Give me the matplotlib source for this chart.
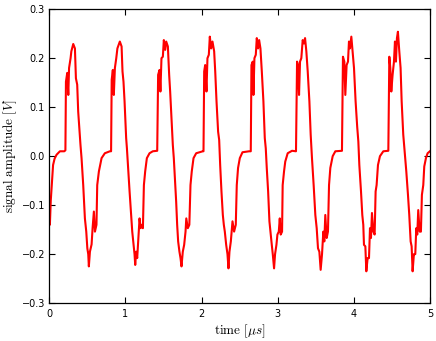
import matplotlib
matplotlib.use('Agg')
import matplotlib.pyplot as plt

# signal: time in microseconds, amplitude in volts
time_us = [0.0, 0.008, 0.02, 0.03, 0.05, 0.07, 0.096, 0.14, 0.197,
           0.212, 0.219, 0.236, 0.25, 0.26, 0.28, 0.29, 0.315, 0.337, 0.35, 0.367, 0.38, 0.40, 0.41, 0.424,
           0.446, 0.468, 0.486, 0.5, 0.512, 0.52, 0.534, 0.556, 0.569, 0.586, 0.6, 0.62, 0.63, 0.652, 0.687,
           0.73, 0.796, 0.812,
           0.82, 0.835, 0.848, 0.862, 0.88, 0.895, 0.927, 0.95, 0.962, 0.975, 0.989, 1.01, 1.02, 1.033, 1.055,
           1.076, 1.09, 1.107, 1.12, 1.129, 1.142, 1.155, 1.173, 1.186, 1.2, 1.216, 1.23, 1.243, 1.26, 1.282,
           1.317, 1.36, 1.418,
           1.43, 1.448, 1.46, 1.474, 1.492, 1.505, 1.523, 1.536, 1.558, 1.575, 1.588, 1.606, 1.623, 1.636, 1.65,
           1.667, 1.68, 1.693, 1.71, 1.724, 1.737, 1.754, 1.772, 1.79, 1.8, 1.82, 1.84, 1.855, 1.872, 1.895,
           1.93, 2.017, 2.026,
           2.035, 2.048, 2.065, 2.078, 2.096, 2.109, 2.127, 2.144, 2.166, 2.18, 2.197, 2.218, 2.232, 2.245, 2.262,
           2.28, 2.293, 2.306, 2.324, 2.341, 2.354, 2.367, 2.385, 2.407, 2.428, 2.45, 2.463, 2.48, 2.503, 2.538,
           2.625, 2.647,
           2.656, 2.673, 2.682, 2.695, 2.713, 2.726, 2.743, 2.757, 2.774, 2.792, 2.813, 2.831, 2.844, 2.857, 2.875,
           2.892, 2.905, 2.923, 2.936, 2.953, 2.966, 2.984, 2.997, 3.015, 3.028, 3.04, 3.058, 3.066, 3.084, 3.1,
           3.132, 3.189, 3.241,
           3.255, 3.268, 3.281, 3.294, 3.311, 3.329, 3.346, 3.36, 3.377, 3.395, 3.417, 3.434, 3.451, 3.473, 3.495,
           3.513, 3.53, 3.548, 3.565, 3.583, 3.6, 3.613, 3.626, 3.644, 3.661, 3.675, 3.692, 3.723, 3.758, 3.845,
           3.858, 3.876, 3.889, 3.906, 3.924, 3.937, 3.95, 3.968, 3.985, 4.003, 4.024, 4.045, 4.06, 4.073, 4.095,
           4.112, 4.125, 4.134, 4.152, 4.165, 4.182, 4.2, 4.213, 4.226, 4.239, 4.257, 4.274, 4.287, 4.3, 4.318,
           4.344, 4.388, 4.454,
           4.467, 4.48, 4.493, 4.51, 4.528, 4.541, 4.554, 4.567, 4.58, 4.598, 4.615, 4.629, 4.65, 4.668, 4.69,
           4.712, 4.729, 4.747, 4.76, 4.773, 4.79, 4.808, 4.821, 4.834, 4.847, 4.865, 4.882, 4.895, 4.913, 4.926,
           4.948, 4.97, 5.0]

amp_v = [-0.125, -0.14, -0.09, -0.065, -0.018, -0.005, 0.003, 0.01, 0.01,
         0.012, 0.152, 0.17, 0.125, 0.18, 0.2, 0.214, 0.229, 0.22, 0.159, 0.146, 0.091, 0.044, 0.023, -0.004,
         -0.059, -0.127, -0.154, -0.188, -0.2, -0.225, -0.195, -0.18, -0.147, -0.113, -0.154, -0.14, -0.059, -0.031, -0.004,
         0.006, 0.01, 0.01,
         0.156, 0.176, 0.125, 0.18, 0.2, 0.22, 0.234, 0.224, 0.173, 0.152, 0.112, 0.037, 0.016, -0.018, -0.072,
         -0.12, -0.154, -0.181, -0.2, -0.222, -0.195, -0.208, -0.16, -0.127, -0.147, -0.14, -0.147, -0.059, -0.031, -0.004,
         0.006, 0.01, 0.011,
         0.166, 0.176, 0.132, 0.2, 0.203, 0.237, 0.217, 0.234, 0.224, 0.166, 0.132, 0.078, 0.023, -0.004, -0.045,
         -0.093, -0.14, -0.174, -0.195, -0.208, -0.225, -0.195, -0.181, -0.154, -0.127, -0.147, -0.14, -0.059, -0.031, -0.004,
         0.006, 0.01, 0.01,
         0.173, 0.186, 0.132, 0.2, 0.207, 0.244, 0.22, 0.234, 0.214, 0.173, 0.112, 0.05, 0.033, -0.018, -0.072,
         -0.12, -0.14, -0.154, -0.181, -0.2, -0.229, -0.195, -0.174, -0.133, -0.154, -0.14, -0.059, -0.024, -0.004, 0.008,
         0.01, 0.01,
         0.186, 0.193, 0.125, 0.2, 0.207, 0.241, 0.22, 0.237, 0.22, 0.173, 0.112, 0.037, 0.016, -0.024, -0.072,
         -0.133, -0.154, -0.181, -0.2, -0.229, -0.2, -0.181, -0.16, -0.154, -0.127, -0.16, -0.154, -0.059, -0.031, -0.011,
         0.006, 0.011, 0.01,
         0.193, 0.186, 0.125, 0.193, 0.2, 0.237, 0.23, 0.241, 0.214, 0.173, 0.112, 0.044, -0.004, -0.059, -0.12,
         -0.147, -0.188, -0.195, -0.232, -0.2, -0.154, -0.174, -0.12, -0.167, -0.154, -0.059, -0.024, 0.0, 0.01, 0.011,
         0.203, 0.193, 0.125, 0.186, 0.193, 0.234, 0.22, 0.244, 0.214, 0.18, 0.112, 0.06, 0.03, -0.018, -0.072,
         -0.12, -0.14, -0.181, -0.184, -0.235, -0.208, -0.208, -0.147, -0.167, -0.116, -0.154, -0.16, -0.072, -0.059, -0.018,
         0.0, 0.01, 0.011,
         0.203, 0.18, 0.132, 0.166, 0.193, 0.234, 0.193, 0.241, 0.254, 0.214, 0.18, 0.112, 0.044, 0.01, -0.031,
         -0.079, -0.12, -0.174, -0.184, -0.235, -0.2, -0.2, -0.147, -0.16, -0.11, -0.154, -0.154, -0.079, -0.059, -0.021,
         -0.004, 0.006, 0.01]

x_ticks = [0, 1, 2, 3, 4, 5]
y_ticks = [-0.3, -0.2, -0.1, 0.0, 0.1, 0.2, 0.3]

plt.rcParams['mathtext.fontset'] = 'cm'
plt.rcParams['font.size'] = 7.0

fig = plt.figure(figsize=(4.36, 3.41), dpi=100)
ax = fig.add_axes([0.113, 0.111, 0.873, 0.862])

ax.plot(time_us, amp_v, color='red', linewidth=1.5)

ax.set_xlim(0, 5)
ax.set_ylim(-0.3, 0.3)
ax.set_xticks(x_ticks)
ax.set_yticks(y_ticks)

# old-style ticks: pointing in, on all four sides
ax.tick_params(direction='in', top=True, right=True, length=4, width=0.8)
ax.tick_params(axis='x', pad=4)
ax.tick_params(axis='y', pad=3)
for sp in ax.spines.values():
    sp.set_linewidth(0.9)

ax.set_xlabel(r'$\mathrm{time}\ [\mu s]$', fontsize=9.5, labelpad=3)
ax.set_ylabel(r'$\mathrm{signal\ amplitude}\ [V]$', fontsize=9.5, labelpad=2)

fig.savefig('out.png', dpi=100)
